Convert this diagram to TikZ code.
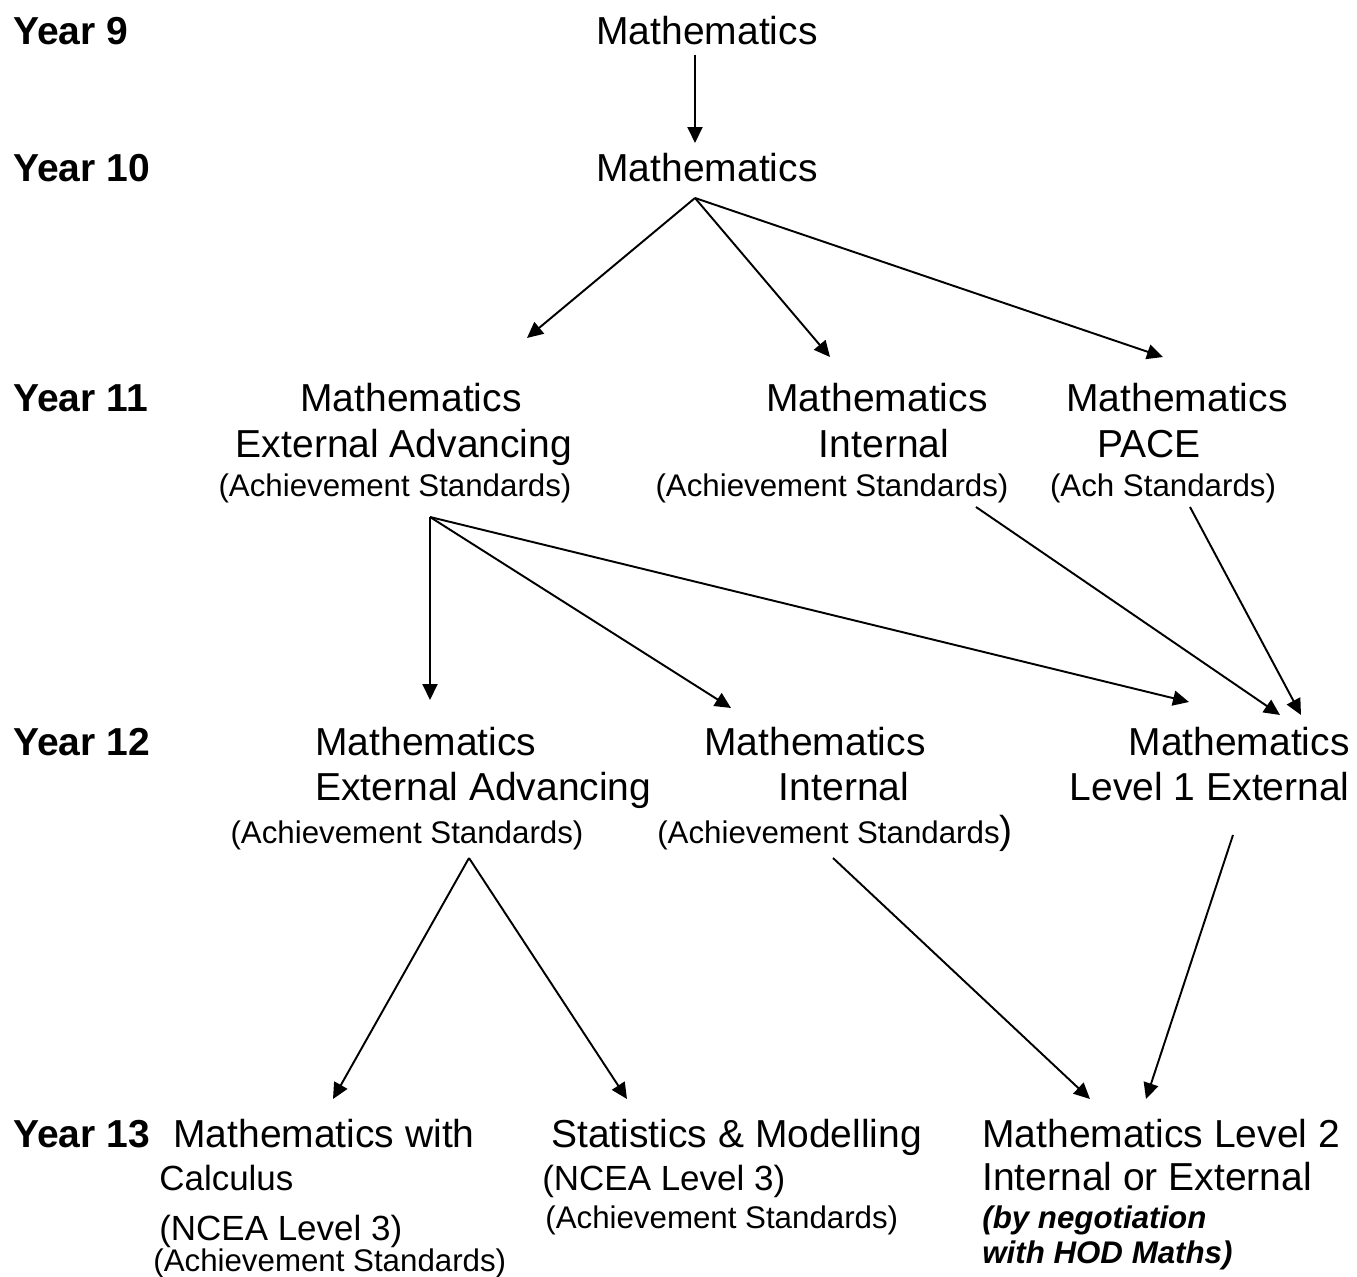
\documentclass[tikz,border=0pt]{standalone}
\usepackage{fontspec}
\setmainfont{Liberation Sans}
\usetikzlibrary{arrows.meta}

\newcommand\txtbig{\fontsize{22.2}{26}\selectfont}
\newcommand\txtmid{\fontsize{19.9}{24}\selectfont}
\newcommand\txtsmall{\fontsize{17.8}{21}\selectfont}

\begin{document}
\begin{tikzpicture}[x=0.02cm, y=-0.02cm,
                every node/.style = {inner sep=0pt, anchor=base},
                bigtxt/.style = {font=\txtbig},
                midtxt/.style = {font=\txtmid},
                smalltxt/.style = {font=\txtsmall},
                yeartxt/.style = {font=\txtbig\bfseries, anchor=base west},
                arr/.style = {-{Triangle[length=0.32cm, width=0.3cm]}, line width=1.1pt}]
                \useasboundingbox (0,0) rectangle (1357,1277);

                \node[yeartxt] (y9) at (13,45) {Year 9};
                \node[yeartxt] (y10) at (13,182) {Year 10};
                \node[yeartxt] (y11) at (13,412) {Year 11};
                \node[yeartxt] (y12) at (13,755) {Year 12};
                \node[yeartxt] (y13) at (13,1147) {Year 13};

                \node[bigtxt] (m9) at (707,45) {Mathematics};
                \node[bigtxt] (m10) at (707,182) {Mathematics};

                \node[bigtxt] (ea11-1) at (411,412) {Mathematics};
                \node[bigtxt] (ea11-2) at (404,458) {External Advancing};
                \node[smalltxt] (ea11-3) at (395,497) {(Achievement Standards)};
                \node[bigtxt] (in11-1) at (877,412) {Mathematics};
                \node[bigtxt] (in11-2) at (884,458) {Internal};
                \node[smalltxt] (in11-3) at (832,497) {(Achievement Standards)};
                \node[bigtxt] (pa11-1) at (1177,412) {Mathematics};
                \node[bigtxt] (pa11-2) at (1149,458) {PACE};
                \node[smalltxt] (pa11-3) at (1163,497) {(Ach Standards)};

                \node[bigtxt, anchor=base west] (ea12-1) at (315,755) {Mathematics};
                \node[bigtxt, anchor=base west] (ea12-2) at (315,800) {External Advancing};
                \node[smalltxt] (ea12-3) at (407,843) {(Achievement Standards)};
                \node[bigtxt] (in12-1) at (815,755) {Mathematics};
                \node[bigtxt] (in12-2) at (844,800) {Internal};
                \node[smalltxt] (in12-3) at (835,843) {(Achievement Standards{\txtbig )}};
                \node[bigtxt, anchor=base east] (l112-1) at (1350,755) {Mathematics};
                \node[bigtxt, anchor=base east] (l112-2) at (1350,800) {Level 1 External};

                \node[bigtxt, anchor=base west] (mc13-1) at (173,1147) {Mathematics with};
                \node[midtxt, anchor=base west] (mc13-2) at (159,1190) {Calculus};
                \node[midtxt, anchor=base west] (mc13-3) at (159,1240) {(NCEA Level 3)};
                \node[smalltxt, anchor=base west] (mc13-4) at (153,1271) {(Achievement Standards)};
                \node[bigtxt, anchor=base west] (sm13-1) at (551,1147) {Statistics \& Modelling};
                \node[midtxt, anchor=base west] (sm13-2) at (542,1190) {(NCEA Level 3)};
                \node[smalltxt, anchor=base west] (sm13-3) at (545,1228) {(Achievement Standards)};
                \node[bigtxt, anchor=base west] (ml13-1) at (982,1147) {Mathematics Level 2};
                \node[bigtxt, anchor=base west] (ml13-2) at (982,1190) {Internal or External};
                \node[smalltxt, font=\txtsmall\bfseries\itshape, anchor=base west] (ml13-3) at (982,1228) {(by negotiation};
                \node[smalltxt, font=\txtsmall\bfseries\itshape, anchor=base west] (ml13-4) at (982,1263) {with HOD Maths)};

                \coordinate (m9-out) at (695,55);
                \coordinate (m10-in) at (695,143);
                \coordinate (m10-out) at (695,198);
                \coordinate (ea11-in) at (527,338);
                \coordinate (in11-in) at (830,357);
                \coordinate (pa11-in) at (1163,357);
                \coordinate (ea11-out) at (430,517);
                \coordinate (in11-out) at (976,507);
                \coordinate (pa11-out) at (1190,507);
                \coordinate (ea12-in) at (430,700);
                \coordinate (in12-in) at (731,708);
                \coordinate (l112-ina) at (1189,702);
                \coordinate (l112-inb) at (1280,715);
                \coordinate (l112-inc) at (1301,715);
                \coordinate (ea12-out) at (469,858);
                \coordinate (in12-out) at (833,858);
                \coordinate (l112-out) at (1233,835);
                \coordinate (mc13-in) at (333,1099);
                \coordinate (sm13-in) at (627,1099);
                \coordinate (ml13-ina) at (1090,1099);
                \coordinate (ml13-inb) at (1146,1099);

                \foreach \a/\b in {m9-out/m10-in, m10-out/ea11-in, m10-out/in11-in, m10-out/pa11-in,
                                   ea11-out/ea12-in, ea11-out/in12-in, ea11-out/l112-ina,
                                   in11-out/l112-inb, pa11-out/l112-inc,
                                   ea12-out/mc13-in, ea12-out/sm13-in,
                                   in12-out/ml13-ina, l112-out/ml13-inb}
                    \draw[arr] (\a) -- (\b);
            \end{tikzpicture}
\end{document}
